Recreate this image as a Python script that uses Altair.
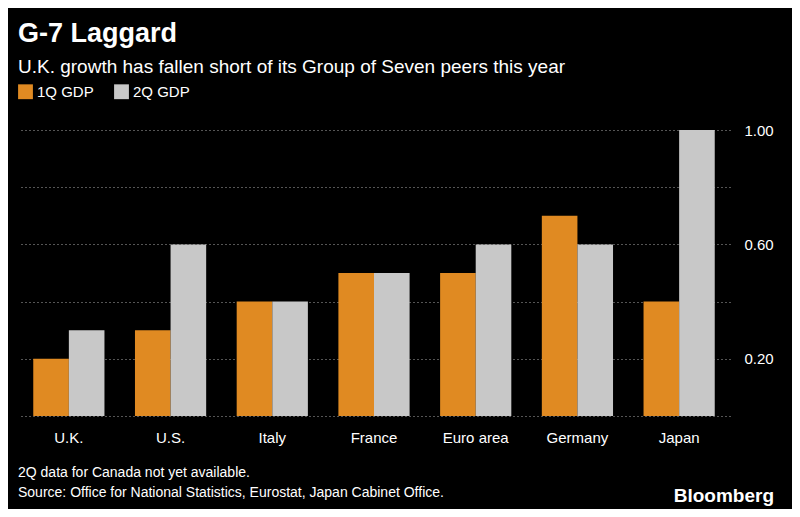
import pandas as pd
import altair as alt

countries = ["U.K.", "U.S.", "Italy", "France", "Euro area", "Germany", "Japan"]
q1 = [0.2, 0.3, 0.4, 0.5, 0.5, 0.7, 0.4]
q2 = [0.3, 0.6, 0.4, 0.5, 0.6, 0.6, 1.0]
series = ["1Q GDP", "2Q GDP"]

rows = []
for c, a, b in zip(countries, q1, q2):
    rows.append({"Country": c, "Series": series[0], "GDP": a})
    rows.append({"Country": c, "Series": series[1], "GDP": b})
df = pd.DataFrame(rows)

font = "Liberation Sans"
W, H = 712, 286

bars = alt.Chart(df).mark_bar().encode(
    alt.X("Country:N", sort=countries, title=None,
          scale=alt.Scale(paddingInner=0.3, paddingOuter=0.15),
          axis=alt.Axis(labelAngle=0, labelColor="#ffffff", labelFontSize=15,
                        labelFont=font, domain=False, ticks=False, labelPadding=14)),
    alt.XOffset("Series:N", sort=series),
    alt.Y("GDP:Q", title=None,
          scale=alt.Scale(domain=[0, 1]),
          axis=alt.Axis(orient="right", values=[0, 0.2, 0.4, 0.6, 0.8, 1.0],
                        labelExpr="datum.value == 0.2 || datum.value == 0.6 || datum.value == 1 ? format(datum.value, '.2f') : ''",
                        labelColor="#ffffff", labelFontSize=15, labelFont=font,
                        domain=False, ticks=False, labelPadding=14,
                        grid=True, gridColor="#aaaaaa", gridDash=[1, 3], gridWidth=1)),
    color=alt.Color("Series:N", sort=series,
                    scale=alt.Scale(domain=series, range=["#e08a22", "#c8c8c8"]),
                    legend=alt.Legend(orient="none", legendX=0, legendY=-46, direction="horizontal",
                                      title=None, symbolType="square", symbolSize=220,
                                      symbolStrokeWidth=0, labelColor="#ffffff",
                                      labelFontSize=15, labelFont=font, columnPadding=20)),
)

texts = pd.DataFrame({
    "t": ["G-7 Laggard",
          "U.K. growth has fallen short of its Group of Seven peers this year",
          "2Q data for Canada not yet available.",
          "Source: Office for National Statistics, Eurostat, Japan Cabinet Office.",
          "Bloomberg"],
    "x": [0, 0, 0, 0, W + 44],
    "y": [-96, -63, 343, 363, 366],
    "size": [27, 19, 14, 14, 19],
    "weight": ["bold", "normal", "normal", "normal", "bold"],
    "align": ["left", "left", "left", "left", "right"],
})

def txt(i):
    r = texts.iloc[[i]]
    return alt.Chart(r).mark_text(
        align=r["align"].iloc[0], baseline="middle", color="#ffffff", font=font,
        fontSize=int(r["size"].iloc[0]), fontWeight=r["weight"].iloc[0],
    ).encode(x=alt.value(float(r["x"].iloc[0])), y=alt.value(float(r["y"].iloc[0])), text="t:N")

chart = alt.layer(bars, *[txt(i) for i in range(len(texts))]).properties(
    width=W, height=H, background="#000000",
    autosize=alt.AutoSizeParams(type="none"),
    padding={"left": 10, "top": 122, "right": 62, "bottom": 93},
).configure_view(stroke=None)

chart.save("out.html", embed_options={"renderer": "svg", "actions": False})
